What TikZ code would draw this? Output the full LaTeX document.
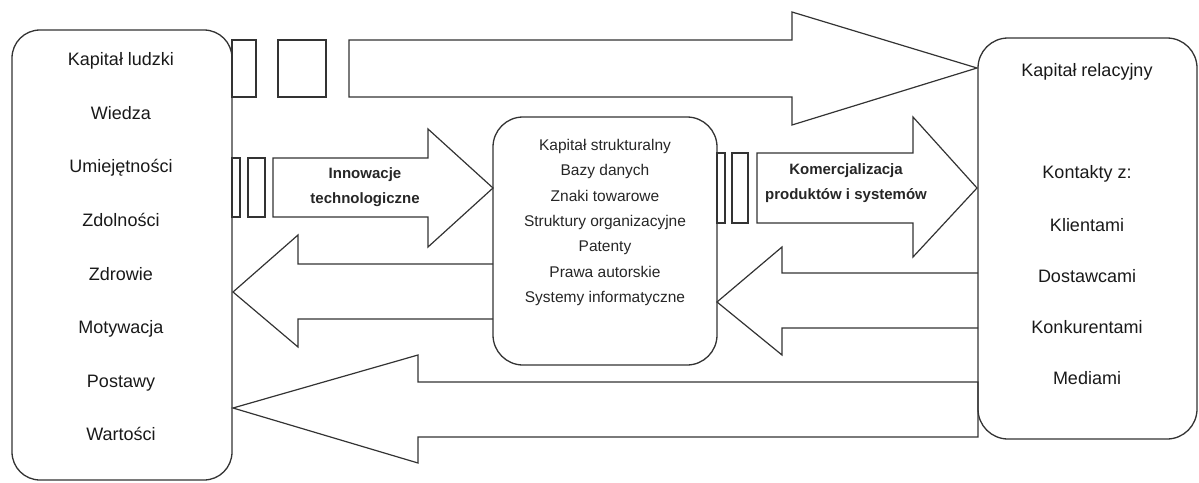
\documentclass[tikz,border=0pt]{standalone}
\usepackage{fontspec}
\setmainfont{Liberation Sans}
\begin{document}
\begin{tikzpicture}[
  x=1pt, y=-1pt,
  kapbox/.style = {draw=black!80, line width=1.3pt, rounded corners=28pt, inner sep=0pt},
  kaparr/.style = {draw=black!80, line width=1.2pt, line join=miter},
  kaptxt/.style = {text=black!90, text height=0.72em, text depth=0pt,
    font=\fontsize{18}{20}\selectfont},
  kapmid/.style = {text=black!85, text height=0.72em, text depth=0pt,
    font=\fontsize{15.5}{18}\selectfont},
  kaplbl/.style = {text=black!85, align=center, font=\bfseries\fontsize{15}{25}\selectfont}
]
  \useasboundingbox (0,0) rectangle (1199,482);
  % boxes
  \node[kapbox, minimum width=220pt, minimum height=450pt] (ludzki) at (122,255) {};
  \node[kapbox, minimum width=224pt, minimum height=248pt, rounded corners=30pt] (strukt) at (605,241) {};
  \node[kapbox, minimum width=219pt, minimum height=401pt, rounded corners=30pt] (relac) at (1087.5,238.5) {};
  % left box
  \foreach \txt [count=\i] in {Kapitał ludzki, Wiedza, Umiejętności, Zdolności,
      Zdrowie, Motywacja, Postawy, Wartości}
    \node[kaptxt] (lud\i) at (121, 8.5+53.6*\i) {\txt};
  % middle box
  \foreach \txt [count=\i] in {Kapitał strukturalny, Bazy danych, Znaki towarowe,
      Struktury organizacyjne, Patenty, Prawa autorskie, Systemy informatyczne}
    \node[kapmid] (str\i) at (605, 121.7+25.3*\i) {\txt};
  % right box
  \node[kaptxt] (rel0) at (1087,73) {Kapitał relacyjny};
  \node[kaptxt] (kont) at (1087,175) {Kontakty z:};
  \foreach \txt [count=\i] in {Klientami, Dostawcami, Konkurentami, Mediami}
    \node[kaptxt] (rel\i) at (1087, 177+51*\i) {\txt};
  % top arrow
  \draw[kaparr] (232,40) rectangle (256,97);
  \draw[kaparr] (278,40) rectangle (326,97);
  \draw[kaparr] (349,40) -- (792,40) -- (792,12) -- (977,68) -- (792,125)
    -- (792,97) -- (349,97) -- cycle;
  % innowacje
  \draw[kaparr] (232,158) rectangle (240,217);
  \draw[kaparr] (248,158) rectangle (265,217);
  \draw[kaparr] (273,158) -- (428,158) -- (428,129) -- (493,188) -- (428,247)
    -- (428,217) -- (273,217) -- cycle;
  \node[kaplbl] (innow) at (365,187) {Innowacje\\technologiczne};
  % komercjalizacja
  \draw[kaparr] (717,153) rectangle (725,223);
  \draw[kaparr] (732,153) rectangle (748,223);
  \draw[kaparr] (757,153) -- (913,153) -- (913,117) -- (977,188) -- (913,257)
    -- (913,223) -- (757,223) -- cycle;
  \node[kaplbl] (komer) at (846,183) {Komercjalizacja\\produktów i systemów};
  % back arrows
  \draw[kaparr] (493,264) -- (298,264) -- (298,235) -- (233,292) -- (298,347)
    -- (298,319) -- (493,319);
  \draw[kaparr] (978,273) -- (782,273) -- (782,247) -- (717,302) -- (782,355)
    -- (782,328) -- (978,328);
  \draw[kaparr] (978,382) -- (418,382) -- (418,355) -- (233,408) -- (418,463)
    -- (418,437) -- (978,437) -- cycle;
\end{tikzpicture}
\end{document}
